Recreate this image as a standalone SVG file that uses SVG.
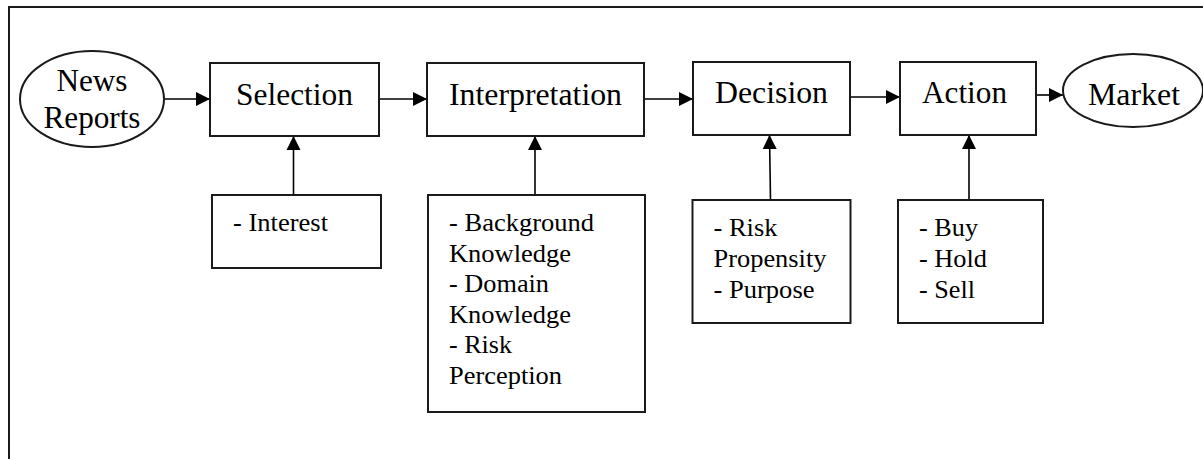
<svg xmlns="http://www.w3.org/2000/svg" width="1203" height="459" viewBox="0 0 1203 459">
  <style>
    .box { fill: #fff; stroke: #1a1a1a; stroke-width: 2; }
    .frame { fill: none; stroke: #1a1a1a; stroke-width: 2; }
    .link { fill: none; stroke: #000; stroke-width: 1.6; marker-end: url(#arrow); }
    text { font-family: "Liberation Serif", "Times New Roman", Tinos, "DejaVu Serif", "Noto Serif", serif; fill: #000; }
    .title { font-size: 32px; text-anchor: middle; }
    .item { font-size: 26px; }
  </style>
  <defs>
    <marker id="arrow" markerUnits="userSpaceOnUse" markerWidth="16" markerHeight="16" viewBox="0 0 16 16" refX="15" refY="8" orient="auto">
      <path d="M1,1 L15,8 L1,15 Z" fill="#000"/>
    </marker>
  </defs>

  <rect width="1203" height="459" fill="#fff"/>
  <!-- outer frame, open on the right and bottom -->
  <path class="frame" d="M9,459 V7 H1203"/>

  <g id="connectors">
    <line class="link" x1="164" y1="99" x2="210" y2="99"/>
    <line class="link" x1="379" y1="99" x2="427" y2="99"/>
    <line class="link" x1="644" y1="99" x2="693" y2="99"/>
    <line class="link" x1="850" y1="97" x2="900" y2="97"/>
    <line class="link" x1="1036" y1="95" x2="1063" y2="95"/>
    <line class="link" x1="293.5" y1="195" x2="293.5" y2="136"/>
    <line class="link" x1="535" y1="195" x2="535" y2="136"/>
    <line class="link" x1="770.5" y1="200" x2="769.5" y2="135"/>
    <line class="link" x1="969" y1="199" x2="969" y2="135"/>
  </g>

  <g id="news-reports">
    <ellipse class="box" cx="92" cy="99" rx="72" ry="48"/>
    <text class="title" x="92" y="91" textLength="71" lengthAdjust="spacingAndGlyphs">News</text>
    <text class="title" x="92" y="128" textLength="97" lengthAdjust="spacingAndGlyphs">Reports</text>
  </g>

  <g id="selection">
    <rect class="box" x="210" y="63" width="169" height="73"/>
    <text class="title" x="294.5" y="105" textLength="117" lengthAdjust="spacingAndGlyphs">Selection</text>
  </g>

  <g id="interpretation">
    <rect class="box" x="427" y="63" width="217" height="73"/>
    <text class="title" x="535.5" y="105" textLength="173" lengthAdjust="spacingAndGlyphs">Interpretation</text>
  </g>

  <g id="decision">
    <rect class="box" x="693" y="62" width="157" height="73"/>
    <text class="title" x="771.5" y="103" textLength="113" lengthAdjust="spacingAndGlyphs">Decision</text>
  </g>

  <g id="action">
    <rect class="box" x="900" y="62" width="136" height="73"/>
    <text class="title" x="964.5" y="103" textLength="85" lengthAdjust="spacingAndGlyphs">Action</text>
  </g>

  <g id="market">
    <ellipse class="box" cx="1133" cy="90.5" rx="70" ry="36.5"/>
    <text class="title" x="1134" y="105" textLength="92" lengthAdjust="spacingAndGlyphs">Market</text>
  </g>

  <g id="selection-factors">
    <rect class="box" x="212" y="195" width="169" height="73"/>
    <text class="item" x="233" y="231" textLength="95" lengthAdjust="spacingAndGlyphs">- Interest</text>
  </g>

  <g id="interpretation-factors">
    <rect class="box" x="428" y="195" width="217" height="217"/>
    <text class="item" x="449" y="231" textLength="145" lengthAdjust="spacingAndGlyphs">- Background</text>
    <text class="item" x="449" y="261.5" textLength="122" lengthAdjust="spacingAndGlyphs">Knowledge</text>
    <text class="item" x="449" y="292" textLength="100" lengthAdjust="spacingAndGlyphs">- Domain</text>
    <text class="item" x="449" y="322.5" textLength="122" lengthAdjust="spacingAndGlyphs">Knowledge</text>
    <text class="item" x="449" y="353" textLength="63" lengthAdjust="spacingAndGlyphs">- Risk</text>
    <text class="item" x="449" y="383.5" textLength="113" lengthAdjust="spacingAndGlyphs">Perception</text>
  </g>

  <g id="decision-factors">
    <rect class="box" x="692.5" y="200" width="158" height="123"/>
    <text class="item" x="713.5" y="236" textLength="64" lengthAdjust="spacingAndGlyphs">- Risk</text>
    <text class="item" x="713.5" y="267" textLength="113" lengthAdjust="spacingAndGlyphs">Propensity</text>
    <text class="item" x="713.5" y="298" textLength="101" lengthAdjust="spacingAndGlyphs">- Purpose</text>
  </g>

  <g id="action-options">
    <rect class="box" x="898" y="200" width="145" height="123"/>
    <text class="item" x="919" y="236" textLength="59" lengthAdjust="spacingAndGlyphs">- Buy</text>
    <text class="item" x="919" y="267" textLength="68" lengthAdjust="spacingAndGlyphs">- Hold</text>
    <text class="item" x="919" y="298" textLength="56" lengthAdjust="spacingAndGlyphs">- Sell</text>
  </g>
</svg>
